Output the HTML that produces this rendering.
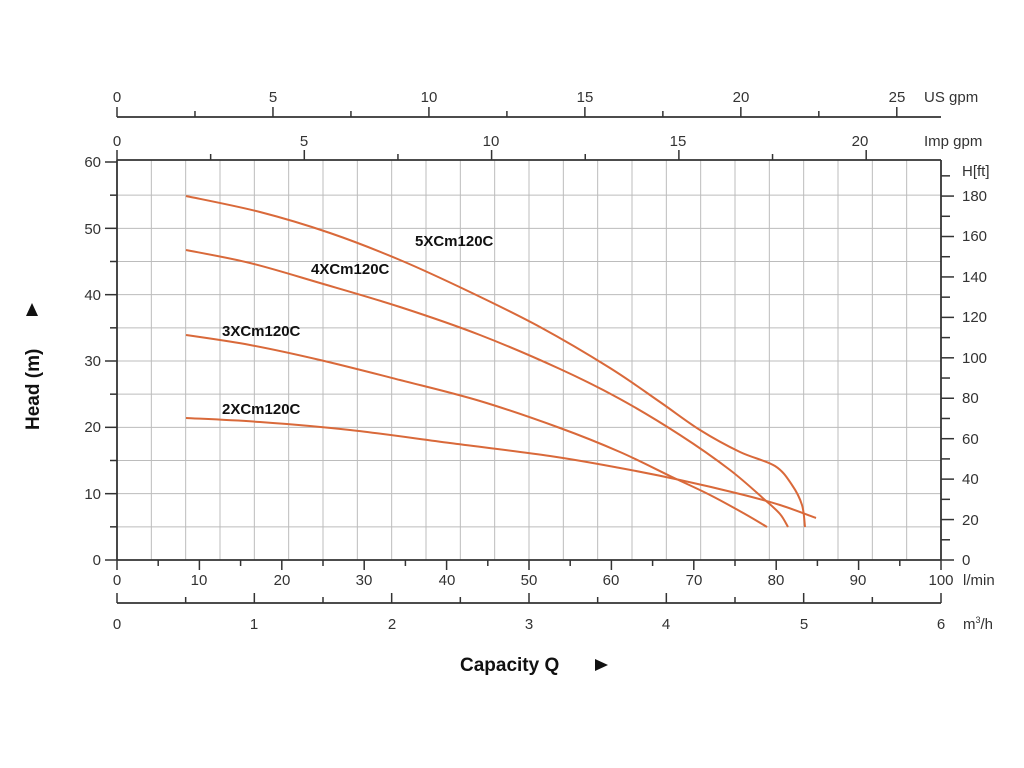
<!DOCTYPE html>
<html><head><meta charset="utf-8"><style>
html,body{margin:0;padding:0;background:#fff;}
svg{display:block;font-family:"Liberation Sans",sans-serif;}
.t{font-size:15px;fill:#333;}
.lb{font-size:15px;font-weight:bold;fill:#111;}
</style></head><body>
<svg id="s" width="1024" height="768" viewBox="0 0 1024 768">
<g id="grid" stroke="#bcbcbc" stroke-width="1"></g>
<g id="ticks" stroke="#333" stroke-width="1.5" fill="none"></g>
<g fill="none" stroke="#333" stroke-width="1.8">
<line x1="117" y1="117" x2="941" y2="117"/>
<line x1="117" y1="160" x2="941" y2="160"/>
<line x1="117" y1="160" x2="117" y2="560"/>
<line x1="941" y1="160" x2="941" y2="560"/>
<line x1="117" y1="560" x2="941" y2="560"/>
<line x1="117" y1="603" x2="941" y2="603"/>
</g>
<g id="curves" fill="none" stroke="#d9693a" stroke-width="2" stroke-linejoin="round"></g>
<g class="lb">
<text x="415" y="246">5XCm120C</text>
<text x="311" y="274">4XCm120C</text>
<text x="222" y="336">3XCm120C</text>
<text x="222" y="414">2XCm120C</text>
</g>
<g class="t" text-anchor="middle">
<text x="117" y="102">0</text><text x="273" y="102">5</text><text x="429" y="102">10</text><text x="585" y="102">15</text><text x="741" y="102">20</text><text x="897" y="102">25</text>
<text x="117" y="146">0</text><text x="304" y="146">5</text><text x="491" y="146">10</text><text x="678" y="146">15</text><text x="860" y="146">20</text>
<text x="117" y="585">0</text><text x="199" y="585">10</text><text x="282" y="585">20</text><text x="364" y="585">30</text><text x="447" y="585">40</text><text x="529" y="585">50</text><text x="611" y="585">60</text><text x="694" y="585">70</text><text x="776" y="585">80</text><text x="858" y="585">90</text><text x="941" y="585">100</text>
<text x="117" y="629">0</text><text x="254" y="629">1</text><text x="392" y="629">2</text><text x="529" y="629">3</text><text x="666" y="629">4</text><text x="804" y="629">5</text><text x="941" y="629">6</text>
</g>
<g class="t" text-anchor="end">
<text x="101" y="167">60</text><text x="101" y="234">50</text><text x="101" y="300">40</text><text x="101" y="366">30</text><text x="101" y="432">20</text><text x="101" y="499">10</text><text x="101" y="565">0</text>
</g>
<g class="t">
<text x="924" y="102">US gpm</text>
<text x="924" y="146">Imp gpm</text>
<text x="962" y="176">H[ft]</text>
<text x="962" y="201">180</text><text x="962" y="241">160</text><text x="962" y="282">140</text><text x="962" y="322">120</text><text x="962" y="363">100</text><text x="962" y="403">80</text><text x="962" y="444">60</text><text x="962" y="484">40</text><text x="962" y="525">20</text><text x="962" y="565">0</text>
<text x="963" y="585">l/min</text>
<text x="963" y="629">m<tspan font-size="9" dy="-6">3</tspan><tspan dy="6">/h</tspan></text>
</g>
<text x="460" y="671" style="font-size:19px;font-weight:bold;fill:#111">Capacity Q</text>
<polygon points="595,659 608,665 595,671" fill="#111"/>
<text transform="translate(39,430) rotate(-90)" style="font-size:19px;font-weight:bold;fill:#111">Head (m)</text>
<polygon points="26,316 32,303 38,316" fill="#111"/>
</svg>
<script>
var ns="http://www.w3.org/2000/svg",g=document.getElementById('grid'),t=document.getElementById('ticks');
function L(p,a,b,c,d){var l=document.createElementNS(ns,'line');l.setAttribute('x1',a);l.setAttribute('y1',b);l.setAttribute('x2',c);l.setAttribute('y2',d);p.appendChild(l);}
for(var i=1;i<24;i++){var x=117+i*824/24;L(g,x,160,x,560);}
for(var j=1;j<12;j++){var y=560-j*398/12;L(g,117,y,941,y);}
for(var j=0;j<=12;j++){var y=560-j*398/12;L(t,j%2?110:105,y,117,y);}
for(var f=0;f<=190;f+=10){var y=560-f*0.3048*398/60;L(t,941,y,f%20?950:954,y);}
for(var q=0;q<=100;q+=5){var x=117+q*8.24;L(t,x,560,x,q%10?566:570);}
for(var m=0;m<=6;m+=0.5){var x=117+m*824/6;L(t,x,603,x,m%1?597:593);}
for(var u=0;u<=26.4;u+=2.5){var x=117+u/26.417*824;L(t,x,117,x,u%5?111:107);}
for(var v=0;v<=22;v+=2.5){var x=117+v/21.997*824;L(t,x,160,x,v%5?154:150);}
function cr(P){var d="M"+P[0][0]+","+P[0][1];for(var i=0;i<P.length-1;i++){var p0=P[i-1]||P[i],p1=P[i],p2=P[i+1],p3=P[i+2]||p2;
d+=" C"+(p1[0]+(p2[0]-p0[0])/6)+","+(p1[1]+(p2[1]-p0[1])/6)+" "+(p2[0]-(p3[0]-p1[0])/6)+","+(p2[1]-(p3[1]-p1[1])/6)+" "+p2[0]+","+p2[1];}return d;}
var C=[
[[186,196],[260,212],[330,233],[400,260],[470,292],[540,327],[610,368],[660,402],[700,430],[740,452],[775,466],[792,485],[802,505],[805,527]],
[[186,250],[250,263],[320,283],[400,307],[480,335],[560,369],[620,399],[680,435],[730,470],[765,500],[780,514],[788,527]],
[[186,335],[250,345],[320,360],[400,380],[480,401],[560,428],[620,452],[670,476],[710,495],[745,514],[767,527]],
[[186,418],[260,422],[350,430],[450,443],[550,456],[620,468],[680,480],[740,494],[780,505],[816,518]]];
var cg=document.getElementById('curves');C.forEach(function(P){var p=document.createElementNS(ns,'path');p.setAttribute('d',cr(P));cg.appendChild(p);});
</script>
</body></html>
